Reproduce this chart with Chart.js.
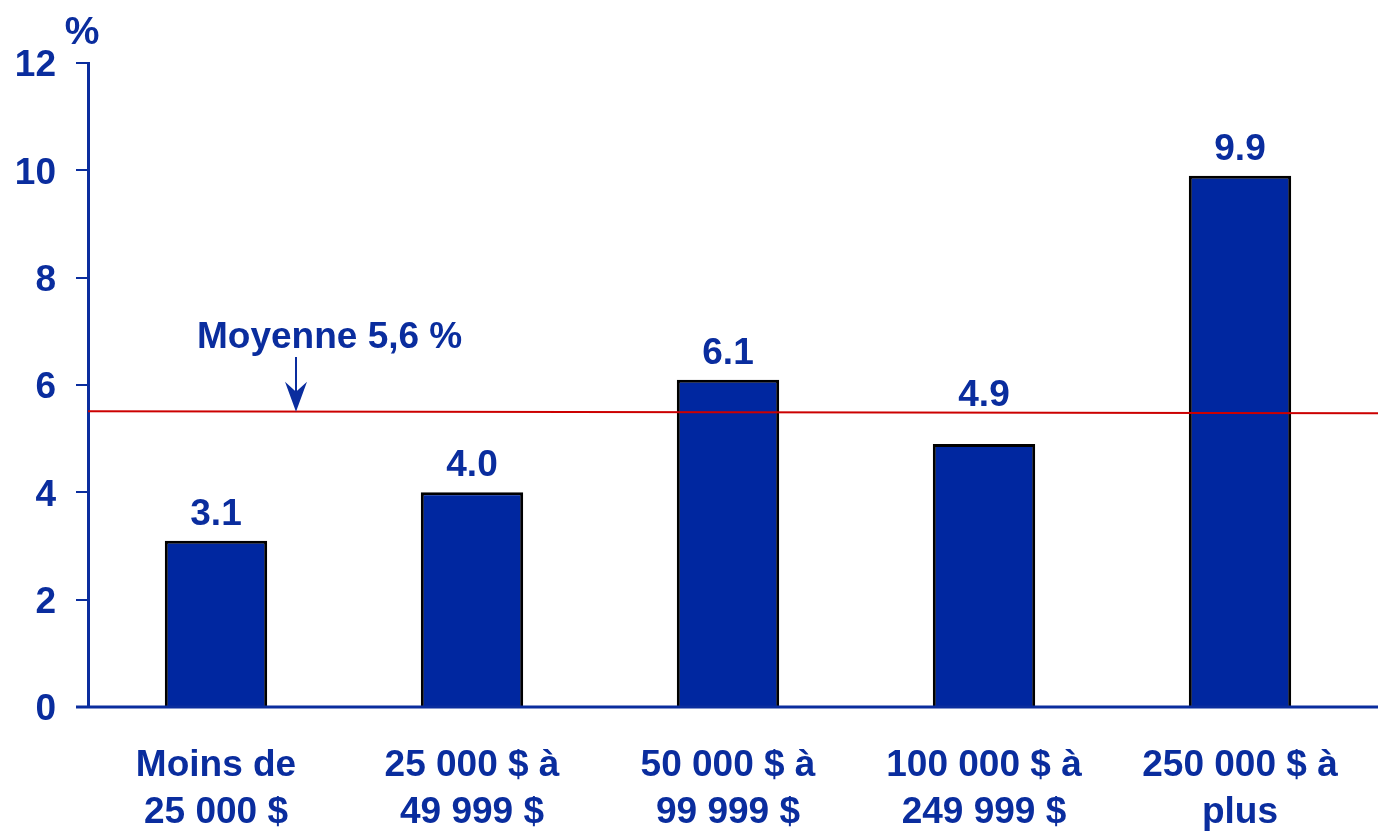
<!DOCTYPE html>
<html>
<head>
<meta charset="utf-8">
<script src="https://cdn.jsdelivr.net/npm/chart.js@4"></script>
<style>
  html, body { margin: 0; padding: 0; background: #fff; }
  #wrap { width: 1378px; height: 831px; position: relative; }
</style>
</head>
<body>
<div id="wrap"><canvas id="chart"></canvas></div>
<script>
// Data
const categories = [
    ["Moins de", "25 000 $"],
    ["25 000 $ à", "49 999 $"],
    ["50 000 $ à", "99 999 $"],
    ["100 000 $ à", "249 999 $"],
    ["250 000 $ à", "plus"]
];
const values = [3.1, 4.0, 6.1, 4.9, 9.9];
const averageValue = 5.5;            // where the red line sits on the scale
const averageLabel = "Moyenne 5,6 %";
const yTicks = [0, 2, 4, 6, 8, 10, 12];
const unitLabel = "%";

const BLUE = "#0a2d9e";
const BAR = "#0027a0";
const RED = "#cc0000";
const FONT = "'Liberation Sans', Arial, sans-serif";

// Draws x axis line, average line, annotation, value labels and the % unit
const extras = {
    id: "extras",
    afterDatasetsDraw(chart) {
        const ctx = chart.ctx;
        const area = chart.chartArea;
        const y = chart.scales.y;
        const right = chart.width;

        // red average line, slightly sloped like the original
        const yAvg = y.getPixelForValue(averageValue);
        ctx.save();
        ctx.strokeStyle = RED;
        ctx.lineWidth = 2;
        ctx.beginPath();
        ctx.moveTo(area.left, yAvg - 0.5);
        ctx.lineTo(right, yAvg + 1.5);
        ctx.stroke();

        // x axis line to the edge
        const y0 = y.getPixelForValue(0);
        ctx.strokeStyle = BLUE;
        ctx.lineWidth = 3;
        ctx.beginPath();
        ctx.moveTo(area.left - 12, y0);
        ctx.lineTo(right, y0);
        ctx.stroke();

        ctx.fillStyle = BLUE;
        ctx.font = "bold 37px " + FONT;
        ctx.textAlign = "center";
        ctx.textBaseline = "alphabetic";

        // value labels above bars (moved above the red line if they would cross it)
        const meta = chart.getDatasetMeta(0);
        meta.data.forEach((bar, i) => {
            let base = bar.y - 16;
            if (base > yAvg && base - 27 < yAvg) base = yAvg - 6;
            ctx.fillText(values[i].toFixed(1), bar.x, base);
        });

        // unit label
        ctx.font = "bold 39px " + FONT;
        ctx.fillText(unitLabel, area.left - 6, 44);

        // annotation with arrow
        ctx.font = "bold 37px " + FONT;
        const ax = area.left + 208;
        ctx.textAlign = "left";
        ctx.fillText(averageLabel, area.left + 109, 348);
        ctx.strokeStyle = BLUE;
        ctx.lineWidth = 2;
        ctx.beginPath();
        ctx.moveTo(ax, 357);
        ctx.lineTo(ax, yAvg - 14);
        ctx.stroke();
        ctx.beginPath();
        ctx.moveTo(ax, yAvg);
        ctx.lineTo(ax - 11, yAvg - 30);
        ctx.lineTo(ax, yAvg - 20);
        ctx.lineTo(ax + 11, yAvg - 30);
        ctx.closePath();
        ctx.fill();
        ctx.restore();
    }
};

new Chart(document.getElementById("chart"), {
    type: "bar",
    data: {
        labels: categories,
        datasets: [{
            data: values,
            backgroundColor: BAR,
            borderColor: "#000",
            borderWidth: 3,
            borderSkipped: "bottom",
            barPercentage: 0.4,
            categoryPercentage: 1
        }]
    },
    options: {
        responsive: true,
        maintainAspectRatio: false,
        animation: false,
        layout: { padding: { top: 63, right: 10, left: 0, bottom: 0 } },
        plugins: {
            legend: { display: false },
            tooltip: { enabled: false }
        },
        scales: {
            x: {
                grid: { display: false, drawTicks: false },
                border: { display: false },
                ticks: {
                    color: BLUE,
                    font: { family: FONT, size: 37, weight: "bold", lineHeight: 1.25 },
                    padding: 36,
                    maxRotation: 0,
                    autoSkip: false
                },
                afterFit(scale) { scale.height = 124; }
            },
            y: {
                min: 0,
                max: 12,
                afterBuildTicks(scale) {
                    scale.ticks = yTicks.map(v => ({ value: v }));
                },
                grid: {
                    drawOnChartArea: false,
                    drawTicks: true,
                    tickLength: 12,
                    tickColor: BLUE,
                    lineWidth: 2
                },
                border: { display: true, color: BLUE, width: 3 },
                ticks: {
                    color: BLUE,
                    font: { family: FONT, size: 37, weight: "bold" },
                    padding: 20,
                    labelOffset: 3
                },
                afterFit(scale) { scale.width = 88; }
            }
        }
    },
    plugins: [extras]
});
</script>
</body>
</html>
